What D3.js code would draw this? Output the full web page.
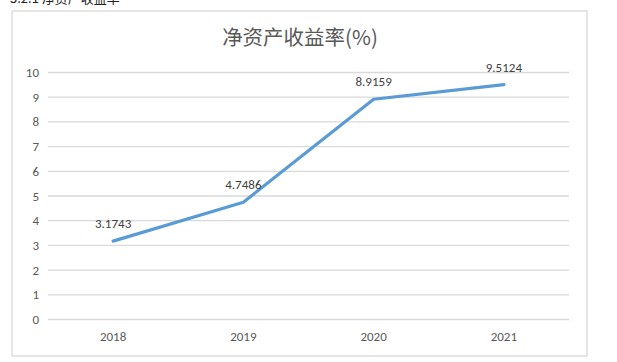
<!DOCTYPE html>
<meta charset="utf-8">
<style>
body { margin: 0; background: #fff; }
svg { display: block; font-family: "Noto Sans CJK SC", "Open Sans", sans-serif; }
.grid line { stroke: #d9d9d9; stroke-width: 1.3px; }
.tick-label { fill: #595959; font-size: 13px; font-family: Calibri, Carlito, "Open Sans", sans-serif; }
</style>
<svg width="617" height="362"></svg>
<script src="https://d3js.org/d3.v7.min.js"></script>
<script>
var years = ["2018", "2019", "2020", "2021"];
var roe = [3.1743, 4.7486, 8.9159, 9.5124];
var labels = ["3.1743", "4.7486", "8.9159", "9.5124"];
var yTicks = [0, 1, 2, 3, 4, 5, 6, 7, 8, 9, 10];

var svg = d3.select("svg");

// cut-off heading above the chart box
svg.append("text")
    .attr("x", 10).attr("y", 3)
    .attr("font-size", 13).attr("fill", "#222")
    .text("3.2.1 净资产收益率");

// chart frame
svg.append("rect")
    .attr("x", 12).attr("y", 11)
    .attr("width", 575).attr("height", 345)
    .attr("fill", "#fff")
    .attr("stroke", "#d9d9d9").attr("stroke-width", 1.3);

var x = d3.scaleBand().domain(years).range([48, 569]);
var y = d3.scaleLinear().domain([0, 10]).range([319.5, 72.5]);

svg.append("text")
    .attr("x", 300).attr("y", 45)
    .attr("text-anchor", "middle")
    .attr("font-size", 20.5).attr("fill", "#595959")
    .text("净资产收益率(%)");

svg.append("g").attr("class", "grid")
  .selectAll("line").data(yTicks).enter().append("line")
    .attr("x1", 48).attr("x2", 569)
    .attr("y1", function(d) { return y(d); })
    .attr("y2", function(d) { return y(d); });

svg.append("g").selectAll("text").data(yTicks).enter().append("text")
    .attr("class", "tick-label")
    .attr("x", 39).attr("y", function(d) { return y(d) + 4.5; })
    .attr("text-anchor", "end")
    .text(function(d) { return d; });

svg.append("g").selectAll("text").data(years).enter().append("text")
    .attr("class", "tick-label")
    .attr("x", function(d) { return x(d) + x.bandwidth() / 2; })
    .attr("y", 341)
    .attr("text-anchor", "middle")
    .text(function(d) { return d; });

var pts = years.map(function(d, i) { return [x(d) + x.bandwidth() / 2, y(roe[i])]; });

svg.append("path")
    .attr("d", d3.line()(pts))
    .attr("fill", "none")
    .attr("stroke", "#5b9bd5")
    .attr("stroke-width", 3.2)
    .attr("stroke-linejoin", "round")
    .attr("stroke-linecap", "round");

svg.append("g").selectAll("text").data(pts).enter().append("text")
    .attr("class", "tick-label")
    .attr("x", function(d) { return d[0]; })
    .attr("y", function(d) { return d[1] - 13; })
    .attr("text-anchor", "middle")
    .style("fill", "#404040")
    .text(function(d, i) { return labels[i]; });
</script>
